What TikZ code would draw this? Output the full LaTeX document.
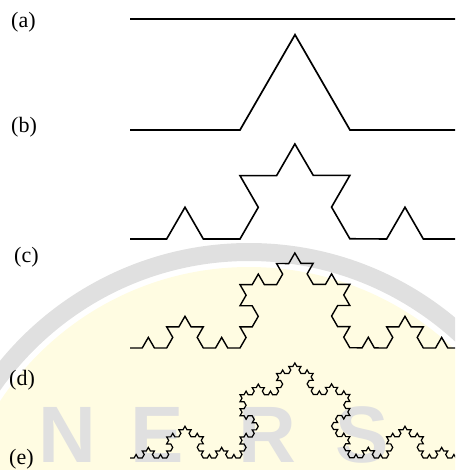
\documentclass[tikz,border=0pt]{standalone}
\usepackage{fontspec}
\setmainfont{Liberation Serif}
\setsansfont{Liberation Sans}
\usetikzlibrary{decorations.fractals}
\definecolor{wmyellow}{RGB}{255,252,226}
\definecolor{wmgray}{RGB}{224,224,224}
\begin{document}
\begin{tikzpicture}[x=1pt,y=1pt,
  koch/.style={draw=black, line width=#1, line join=miter, decoration=Koch snowflake},
  lab/.style={anchor=base west, font=\fontsize{22}{26}\selectfont, inner sep=0pt},
  wmark/.style={text=wmgray, font=\fontsize{80}{80}\sffamily\bfseries\selectfont, inner sep=0pt, anchor=base west}]
\useasboundingbox (0,0) rectangle (455,-470);
\clip (0,0) rectangle (455,-470);
% faint background watermark
\fill[wmyellow] (249,-565) circle[radius=298];
\draw[wmgray, line width=18] (249,-565) circle[radius=313];
\node[wmark] (wn) at (38,-462) {N};
\node[wmark] (we) at (130,-462) {E};
\node[wmark] (wr) at (238,-462) {R};
\node[wmark] (ws) at (335,-462) {S};
% curve end points
\coordinate (a0) at (130,-19);  \coordinate (a1) at (460,-19);
\coordinate (b0) at (130,-130); \coordinate (b1) at (460,-130);
\coordinate (c0) at (130,-239); \coordinate (c1) at (460,-239);
\coordinate (d0) at (130,-348); \coordinate (d1) at (460,-348);
\coordinate (e0) at (130,-458); \coordinate (e1) at (460,-458);
% Koch curve iterations
\draw[koch=1.8pt] (a0) -- (a1);
\draw[koch=1.7pt] decorate{(b0) -- (b1)};
\draw[koch=1.6pt] decorate{decorate{(c0) -- (c1)}};
\draw[koch=1.4pt] decorate{decorate{decorate{(d0) -- (d1)}}};
\draw[koch=1.2pt] decorate{decorate{decorate{decorate{(e0) -- (e1)}}}};
% labels
\node[lab] (la) at (11,-28) {(a)};
\node[lab] (lb) at (11,-133) {(b)};
\node[lab] (lc) at (14,-262) {(c)};
\node[lab] (ld) at (9,-385) {(d)};
\node[lab] (le) at (9,-464) {(e)};
\end{tikzpicture}
\end{document}
